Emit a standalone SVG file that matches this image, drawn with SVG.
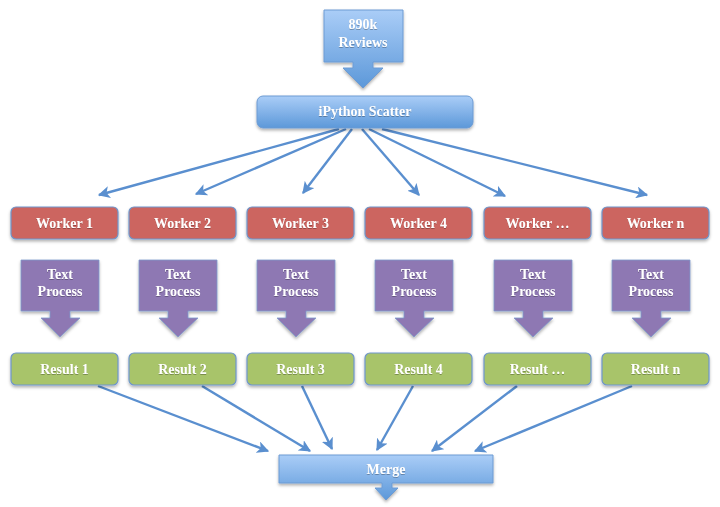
<svg xmlns="http://www.w3.org/2000/svg" width="720" height="507" viewBox="0 0 720 507">
  <defs>
    <linearGradient id="blueGrad" x1="0" y1="0" x2="0" y2="1">
      <stop offset="0" stop-color="#aacdf7"/>
      <stop offset="1" stop-color="#5c98d9"/>
    </linearGradient>
    <filter id="shadow" x="-10%" y="-20%" width="120%" height="160%">
      <feDropShadow dx="0" dy="2" stdDeviation="1.5" flood-color="#000" flood-opacity="0.3"/>
    </filter>
    <filter id="textShadow" x="-10%" y="-30%" width="120%" height="160%">
      <feDropShadow dx="0" dy="0.8" stdDeviation="0.6" flood-color="#000" flood-opacity="0.35"/>
    </filter>
    <marker id="arrow" viewBox="0 0 10 10" refX="9" refY="5" markerWidth="5" markerHeight="5" orient="auto" markerUnits="strokeWidth">
      <path d="M0,0 L10,5 L0,10 L2.5,5 Z" fill="#5a8fcf"/>
    </marker>
  </defs>
  <style>
    text { font-family: "Liberation Serif", "DejaVu Serif", serif; font-weight: bold; font-size: 14px; fill: #ffffff; text-anchor: middle; filter: url(#textShadow); }
    .blue { fill: url(#blueGrad); stroke: #6d9bd3; stroke-width: 1; filter: url(#shadow); }
    .worker { fill: #cc6560; stroke: #6f96cb; stroke-width: 1.2; filter: url(#shadow); }
    .result { fill: #a8c46b; stroke: #6f96cb; stroke-width: 1.2; filter: url(#shadow); }
    .proc { fill: #8e78b3; stroke: #7f9bcc; stroke-width: 0.8; filter: url(#shadow); }
    .link { stroke: #5a8fcf; stroke-width: 2.4; fill: none; marker-end: url(#arrow); }
  </style>

  <rect width="720" height="507" fill="#ffffff"/>

  <!-- connectors -->
  <g id="connectors">
    <line class="link" x1="339" y1="129" x2="99" y2="195"/>
    <line class="link" x1="346" y1="129" x2="196" y2="194"/>
    <line class="link" x1="352" y1="129" x2="303" y2="193"/>
    <line class="link" x1="362" y1="129" x2="419" y2="195"/>
    <line class="link" x1="369" y1="129" x2="505" y2="196"/>
    <line class="link" x1="382" y1="129" x2="647" y2="195"/>
    <line class="link" x1="98" y1="386" x2="268" y2="451"/>
    <line class="link" x1="202" y1="386" x2="310" y2="451"/>
    <line class="link" x1="302" y1="386" x2="332" y2="449"/>
    <line class="link" x1="413" y1="386" x2="377" y2="450"/>
    <line class="link" x1="517" y1="386" x2="432" y2="451"/>
    <line class="link" x1="632" y1="386" x2="475" y2="451"/>
  </g>

  <!-- input -->
  <g id="reviews">
    <path class="blue" d="M324,10 H403 V62 H373 V68 H383 L363,88 L343,68 H353 V62 H324 Z"/>
    <text x="363" y="29">890k</text>
    <text x="363" y="47">Reviews</text>
  </g>

  <g id="scatter">
    <rect class="blue" x="257" y="96" width="216" height="32" rx="6"/>
    <text x="365" y="116">iPython Scatter</text>
  </g>

  <!-- workers -->
  <g id="worker1"><rect class="worker" x="11" y="207" width="107" height="32" rx="5"/><text x="64.5" y="228">Worker 1</text></g>
  <g id="worker2"><rect class="worker" x="129" y="207" width="107" height="32" rx="5"/><text x="182.5" y="228">Worker 2</text></g>
  <g id="worker3"><rect class="worker" x="247" y="207" width="107" height="32" rx="5"/><text x="300.5" y="228">Worker 3</text></g>
  <g id="worker4"><rect class="worker" x="365" y="207" width="107" height="32" rx="5"/><text x="418.5" y="228">Worker 4</text></g>
  <g id="worker5"><rect class="worker" x="484" y="207" width="107" height="32" rx="5"/><text x="537.5" y="228">Worker …</text></g>
  <g id="workerN"><rect class="worker" x="602" y="207" width="107" height="32" rx="5"/><text x="655.5" y="228">Worker n</text></g>

  <!-- text processing steps -->
  <g id="process1"><path class="proc" transform="translate(0,0)" d="M21,260 H99 V311 H70 V318 H80 L60,337 L41,318 H50 V311 H21 Z"/><text x="60" y="279">Text</text><text x="60" y="296">Process</text></g>
  <g id="process2"><path class="proc" transform="translate(118,0)" d="M21,260 H99 V311 H70 V318 H80 L60,337 L41,318 H50 V311 H21 Z"/><text x="178" y="279">Text</text><text x="178" y="296">Process</text></g>
  <g id="process3"><path class="proc" transform="translate(236,0)" d="M21,260 H99 V311 H70 V318 H80 L60,337 L41,318 H50 V311 H21 Z"/><text x="296" y="279">Text</text><text x="296" y="296">Process</text></g>
  <g id="process4"><path class="proc" transform="translate(354,0)" d="M21,260 H99 V311 H70 V318 H80 L60,337 L41,318 H50 V311 H21 Z"/><text x="414" y="279">Text</text><text x="414" y="296">Process</text></g>
  <g id="process5"><path class="proc" transform="translate(473,0)" d="M21,260 H99 V311 H70 V318 H80 L60,337 L41,318 H50 V311 H21 Z"/><text x="533" y="279">Text</text><text x="533" y="296">Process</text></g>
  <g id="processN"><path class="proc" transform="translate(591,0)" d="M21,260 H99 V311 H70 V318 H80 L60,337 L41,318 H50 V311 H21 Z"/><text x="651" y="279">Text</text><text x="651" y="296">Process</text></g>

  <!-- results -->
  <g id="result1"><rect class="result" x="11" y="353" width="107" height="32" rx="5"/><text x="64.5" y="374">Result 1</text></g>
  <g id="result2"><rect class="result" x="129" y="353" width="107" height="32" rx="5"/><text x="182.5" y="374">Result 2</text></g>
  <g id="result3"><rect class="result" x="247" y="353" width="107" height="32" rx="5"/><text x="300.5" y="374">Result 3</text></g>
  <g id="result4"><rect class="result" x="365" y="353" width="107" height="32" rx="5"/><text x="418.5" y="374">Result 4</text></g>
  <g id="result5"><rect class="result" x="484" y="353" width="107" height="32" rx="5"/><text x="537.5" y="374">Result …</text></g>
  <g id="resultN"><rect class="result" x="602" y="353" width="107" height="32" rx="5"/><text x="655.5" y="374">Result n</text></g>

  <!-- merge -->
  <g id="merge">
    <path class="blue" d="M279,455 H493 V483 H392 V488 H398 L386,500 L375,488 H382 V483 H279 Z"/>
    <text x="386" y="474">Merge</text>
  </g>
</svg>
